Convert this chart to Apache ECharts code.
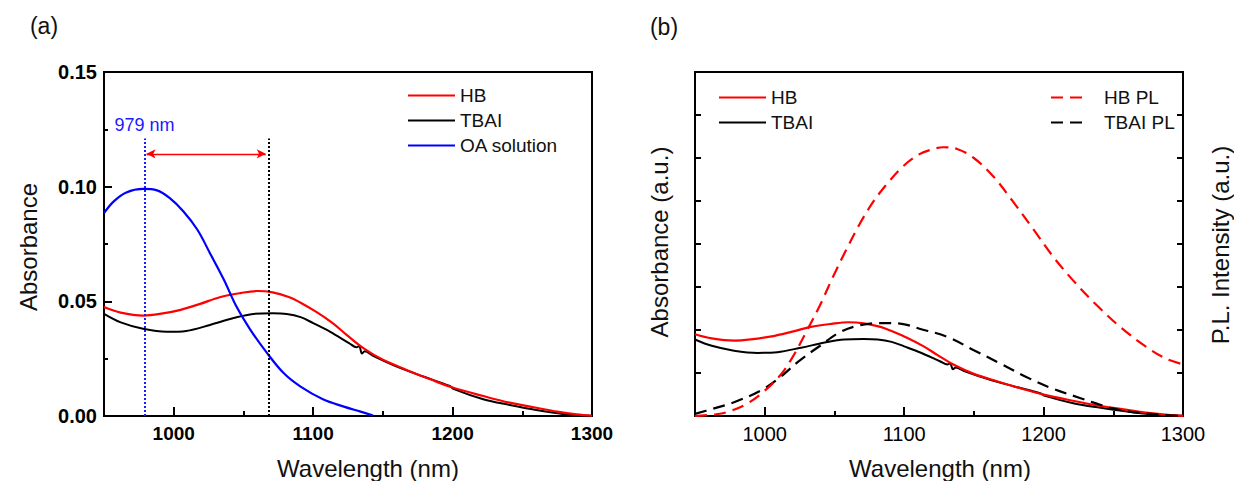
<!DOCTYPE html>
<html>
<head>
<meta charset="utf-8">
<script src="https://cdn.jsdelivr.net/npm/echarts@6/dist/echarts.min.js"></script>
<style>
html,body{margin:0;padding:0;background:#fff;}
#c{width:1234px;height:481px;}
</style>
</head>
<body>
<div id="c"></div>
<script>
// ---------- data ----------
const hbWl   = [950, 962, 978, 990, 1005, 1019, 1033, 1048, 1060, 1071, 1083, 1091, 1102, 1114, 1124, 1136, 1150, 1167, 1184, 1200, 1222, 1241, 1260, 1275, 1289, 1300];
const hbAbs  = [0.0475, 0.0451, 0.0438, 0.0445, 0.0463, 0.0489, 0.0518, 0.0536, 0.0545, 0.0539, 0.0518, 0.0494, 0.0455, 0.0405, 0.0354, 0.0296, 0.0245, 0.0201, 0.0160, 0.0124, 0.0087, 0.0058, 0.0036, 0.0019, 0.0007, 0.0001];

const tbaiWl  = [950, 962, 978, 995, 1009, 1026, 1043, 1057, 1071, 1081, 1091, 1100, 1112, 1126, 1131, 1133, 1135, 1137, 1143, 1160, 1179, 1198, 1201, 1222, 1241, 1260, 1279, 1300];
const tbaiAbs = [0.0445, 0.0408, 0.0380, 0.0367, 0.0371, 0.0397, 0.0427, 0.0445, 0.0448, 0.0445, 0.0431, 0.0405, 0.0368, 0.0317, 0.0300, 0.0305, 0.0272, 0.0282, 0.0262, 0.0215, 0.0172, 0.0131, 0.0117, 0.0073, 0.0048, 0.0026, 0.0009, 0.0001];

const oaWl  = [950, 957, 966, 978, 988, 997, 1007, 1017, 1026, 1036, 1045, 1055, 1067, 1079, 1091, 1107, 1122, 1134, 1143];
const oaAbs = [0.0885, 0.0936, 0.0975, 0.0990, 0.0984, 0.0951, 0.0892, 0.0812, 0.0710, 0.0594, 0.0477, 0.0376, 0.0274, 0.0186, 0.0128, 0.0073, 0.0041, 0.0019, 0.0002];

const hbPlWl = [950, 965, 973, 987, 999, 1011, 1020, 1030, 1040, 1049, 1059, 1068, 1078, 1088, 1099, 1111, 1120, 1128, 1138, 1150, 1164, 1178, 1193, 1207, 1221, 1238, 1255, 1274, 1288, 1300];
const hbPl   = [0, 0.04, 0.09, 0.28, 0.56, 0.94, 1.37, 1.97, 2.60, 3.24, 3.90, 4.46, 4.99, 5.41, 5.80, 6.09, 6.20, 6.25, 6.21, 6.00, 5.57, 4.99, 4.33, 3.70, 3.16, 2.58, 2.07, 1.60, 1.33, 1.20];

const tbaiPlWl = [950, 963, 978, 997, 1011, 1025, 1040, 1054, 1068, 1083, 1097, 1111, 1131, 1150, 1169, 1188, 1207, 1226, 1236, 1250, 1269, 1284, 1300];
const tbaiPl   = [0.05, 0.17, 0.32, 0.59, 0.90, 1.29, 1.64, 1.95, 2.11, 2.16, 2.15, 2.03, 1.84, 1.53, 1.22, 0.90, 0.63, 0.42, 0.31, 0.17, 0.07, 0.03, 0];

const xMajorTicks = [1000, 1100, 1200, 1300];
const xMinorTicks = [1050, 1150, 1250];
const peakOA = 979;       // nm
const peakFilm = 1068;    // nm
const markerTop = 0.121;  // absorbance where dotted guides end
const arrowLevel = 0.1143;
const arrowEnds = [980.5, 1066];

// ---------- helpers ----------
const FONT = '"Liberation Sans", Arial, sans-serif';
const zip = (xs, ys) => xs.map((x, i) => [x, ys[i]]);
const BLACK = '#000';

function xAxes(grid, bold) {
  return [
    {
      gridIndex: grid, type: 'value', min: 950, max: 1300, position: 'bottom',
      axisLine: { show: true, onZero: false, lineStyle: { color: BLACK, width: 2 } },
      axisTick: { show: true, inside: true, length: 9, customValues: xMajorTicks, lineStyle: { color: BLACK, width: 2 } },
      axisLabel: { customValues: xMajorTicks, formatter: v => String(v), fontFamily: FONT, fontSize: bold ? 19 : 20, fontWeight: bold ? 'bold' : 'normal', color: BLACK, margin: 8 },
      splitLine: { show: false }
    },
    {
      gridIndex: grid, type: 'value', min: 950, max: 1300, position: 'bottom',
      axisLine: { show: false },
      axisTick: { show: true, inside: true, length: 5, customValues: xMinorTicks, lineStyle: { color: BLACK, width: 2 } },
      axisLabel: { show: false },
      splitLine: { show: false }
    }
  ];
}

function line(name, xi, yi, xs, ys, color, dashed, width) {
  return {
    name, type: 'line', xAxisIndex: xi, yAxisIndex: yi,
    data: zip(xs, ys), showSymbol: false, symbol: 'none', smooth: 0.35,
    lineStyle: { color, width: width || 2, type: dashed ? [12, 7] : 'solid' },
    itemStyle: { color },
    animation: false, silent: true, clip: true
  };
}

const chart = echarts.init(document.getElementById('c'), null, { renderer: 'svg', width: 1234, height: 481 });

const tbaiA = line('TBAI', 0, 0, tbaiWl, tbaiAbs, BLACK, false, 2);
tbaiA.markLine = {
  silent: true, animation: false, symbol: ['none', 'none'],
  data: [
    [{ coord: [peakFilm, 0], lineStyle: { color: BLACK, width: 2, type: [2, 2] } }, { coord: [peakFilm, markerTop] }],
    [{ coord: [arrowEnds[0], arrowLevel], symbol: 'arrow', symbolSize: [7, 9], lineStyle: { color: '#ff0000', width: 1.3, type: 'solid' } },
     { coord: [arrowEnds[1], arrowLevel], symbol: 'arrow', symbolSize: [7, 9] }]
  ],
  label: { show: false }
};

const hbA = line('HB', 0, 0, hbWl, hbAbs, '#ff0000', false, 2.2);

const oaA = line('OA solution', 0, 0, oaWl, oaAbs, '#0000ff', false, 2.2);
oaA.markLine = {
  silent: true, animation: false, symbol: ['none', 'none'],
  lineStyle: { color: '#1a1aff', width: 2, type: [2, 2] },
  label: { show: true, position: 'end', formatter: peakOA + ' nm', color: '#1a1aff', fontFamily: FONT, fontSize: 18, distance: 5 },
  data: [[{ coord: [peakOA, 0] }, { coord: [peakOA, markerTop] }]]
};

const legendBase = {
  orient: 'vertical', itemHeight: 14, itemGap: 6, selectedMode: false,
  itemStyle: { color: 'rgba(0,0,0,0)', borderWidth: 0, borderColor: 'rgba(0,0,0,0)' },
  textStyle: { fontFamily: FONT, fontSize: 19, color: '#111' }
};

const option = {
  backgroundColor: '#fff',
  animation: false,
  grid: [
    { left: 104, top: 72, width: 488, height: 344, show: true, borderColor: BLACK, borderWidth: 2, backgroundColor: 'transparent', containLabel: false },
    { left: 695, top: 72, width: 488, height: 344, show: true, borderColor: BLACK, borderWidth: 2, backgroundColor: 'transparent', containLabel: false }
  ],
  xAxis: [...xAxes(0, true), ...xAxes(1, false)],
  yAxis: [
    {
      gridIndex: 0, type: 'value', min: 0, max: 0.15, interval: 0.05,
      axisLine: { show: true, lineStyle: { color: BLACK, width: 2 } },
      axisTick: { show: true, inside: true, length: 8, lineStyle: { color: BLACK, width: 2 } },
      minorTick: { show: true, splitNumber: 2, length: 4, lineStyle: { color: BLACK, width: 2 } },
      axisLabel: { formatter: v => v.toFixed(2), fontFamily: FONT, fontSize: 20, fontWeight: 'bold', color: BLACK, margin: 7 },
      splitLine: { show: false }
    },
    {
      gridIndex: 1, type: 'value', min: 0, max: 0.2, interval: 0.025, position: 'left',
      axisLine: { show: true, lineStyle: { color: BLACK, width: 2 } },
      axisTick: { show: true, inside: true, length: 6, lineStyle: { color: BLACK, width: 2 } },
      axisLabel: { show: false }, splitLine: { show: false }
    },
    {
      gridIndex: 1, type: 'value', min: 0, max: 8, interval: 1, position: 'right',
      axisLine: { show: true, lineStyle: { color: BLACK, width: 2 } },
      axisTick: { show: true, inside: true, length: 6, lineStyle: { color: BLACK, width: 2 } },
      axisLabel: { show: false }, splitLine: { show: false }
    }
  ],
  legend: [
    Object.assign({}, legendBase, { left: 402, top: 81, itemWidth: 47, data: ['HB', 'TBAI', 'OA solution'] }),
    Object.assign({}, legendBase, { left: 713, top: 83, itemWidth: 47, data: ['HB', 'TBAI'] }),
    Object.assign({}, legendBase, { left: 1045, top: 83, itemWidth: 38, data: ['HB PL', 'TBAI PL'],
      textStyle: { fontFamily: FONT, fontSize: 19, color: '#111', padding: [0, 0, 0, 10] } })
  ],
  series: [
    tbaiA, hbA, oaA,
    line('TBAI', 2, 1, tbaiWl, tbaiAbs, BLACK, false, 2),
    line('HB', 2, 1, hbWl, hbAbs, '#ff0000', false, 2.2),
    line('TBAI PL', 2, 2, tbaiPlWl, tbaiPl, BLACK, true, 2.2),
    line('HB PL', 2, 2, hbPlWl, hbPl, '#ff0000', true, 2.2)
  ],
  graphic: [
    { type: 'text', x: 44, y: 26, style: { text: '(a)', fontFamily: FONT, fontSize: 23, fill: '#111', align: 'center', verticalAlign: 'middle' } },
    { type: 'text', x: 664, y: 27, style: { text: '(b)', fontFamily: FONT, fontSize: 23, fill: '#111', align: 'center', verticalAlign: 'middle' } },
    { type: 'text', x: 368, y: 468, style: { text: 'Wavelength (nm)', fontFamily: FONT, fontSize: 24, fill: '#111', align: 'center', verticalAlign: 'middle' } },
    { type: 'text', x: 940, y: 468, style: { text: 'Wavelength (nm)', fontFamily: FONT, fontSize: 24, fill: '#111', align: 'center', verticalAlign: 'middle' } },
    { type: 'text', x: 28, y: 247, rotation: Math.PI / 2, style: { text: 'Absorbance', fontFamily: FONT, fontSize: 24, fill: '#111', align: 'center', verticalAlign: 'middle' } },
    { type: 'text', x: 659, y: 242, rotation: Math.PI / 2, style: { text: 'Absorbance (a.u.)', fontFamily: FONT, fontSize: 24, fill: '#111', align: 'center', verticalAlign: 'middle' } },
    { type: 'text', x: 1220, y: 245, rotation: Math.PI / 2, style: { text: 'P.L. Intensity (a.u.)', fontFamily: FONT, fontSize: 24, fill: '#111', align: 'center', verticalAlign: 'middle' } }
  ]
};
chart.setOption(option);
</script>
</body>
</html>
